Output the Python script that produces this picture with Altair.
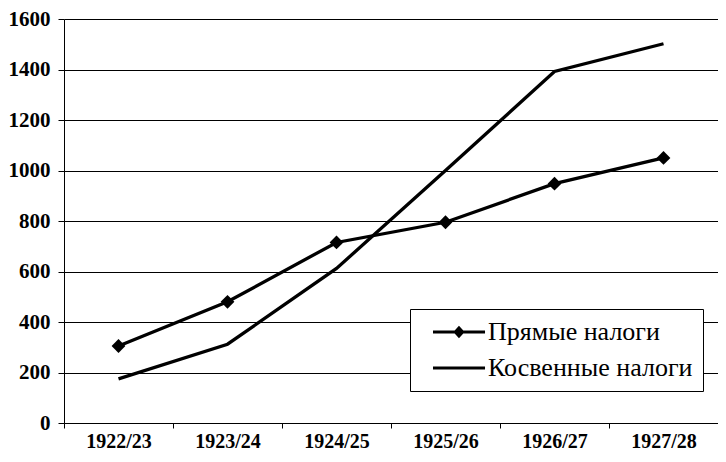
import altair as alt
import pandas as pd

years = ["1922/23", "1923/24", "1924/25", "1925/26", "1926/27", "1927/28"]
direct = [305, 480, 715, 795, 948, 1050]
indirect = [175, 312, 612, 1000, 1392, 1502]
names = ["Прямые налоги", "Косвенные налоги"]
y_ticks = [0, 200, 400, 600, 800, 1000, 1200, 1400, 1600]

rows = []
for y, v in zip(years, direct):
    rows.append({"year": y, "value": v, "series": names[0]})
for y, v in zip(years, indirect):
    rows.append({"year": y, "value": v, "series": names[1]})
df = pd.DataFrame(rows)

FONT = "Liberation Serif"

x_enc = alt.X("year:N", sort=years,
              scale=alt.Scale(type="band", paddingInner=0, paddingOuter=0),
              axis=alt.Axis(title=None, labelAngle=0, tickBand="extent", tickSize=5,
                            labelPadding=3, grid=False, labelFontSize=20))
y_enc = alt.Y("value:Q", scale=alt.Scale(domain=[0, 1600], nice=False),
              axis=alt.Axis(title=None, values=y_ticks, grid=True, tickSize=6,
                            labelPadding=8, format="d"))

lines = alt.Chart(df).mark_line(color="black", strokeWidth=3.3).encode(
    x=x_enc, y=y_enc, detail="series:N"
)

points = alt.Chart(df).transform_filter(
    alt.datum.series == names[0]
).mark_point(shape="diamond", filled=True, color="black", size=190, opacity=1).encode(
    x=x_enc, y=y_enc
)

diamond_line = "M0,-0.27H8.67V0.27H0Z M4.33,-1.05L5.28,0L4.33,1.05L3.38,0Z"
plain_line = "M0,-0.27H8.67V0.27H0Z"

legend_layer = alt.Chart(df).transform_filter("false").mark_point(
    filled=True, color="black", size=144, opacity=1
).encode(
    shape=alt.Shape("series:N",
                    scale=alt.Scale(domain=names, range=[diamond_line, plain_line]),
                    legend=alt.Legend(title=None, orient="none", legendX=346, legendY=290,
                                      fillColor="white", strokeColor="black", padding=10,
                                      labelFont=FONT, labelFontSize=26, labelColor="black",
                                      labelOffset=42, rowPadding=10, symbolSize=144,
                                      labelLimit=500, symbolStrokeWidth=0,
                                      symbolFillColor="black", symbolOpacity=1))
)

chart = alt.layer(lines, points, legend_layer).properties(
    width=654, height=404,
    autosize=alt.AutoSizeParams(type="none"),
    padding={"left": 56, "top": 11, "right": 0, "bottom": 31}
).configure_view(stroke=None).configure_axis(
    domainColor="black", tickColor="black", gridColor="black", gridWidth=1,
    labelFont=FONT, labelFontWeight="bold", labelFontSize=21, labelColor="black",
    domainWidth=1, tickWidth=1
)

chart.save("out.html", embed_options={"renderer": "svg", "actions": False})
